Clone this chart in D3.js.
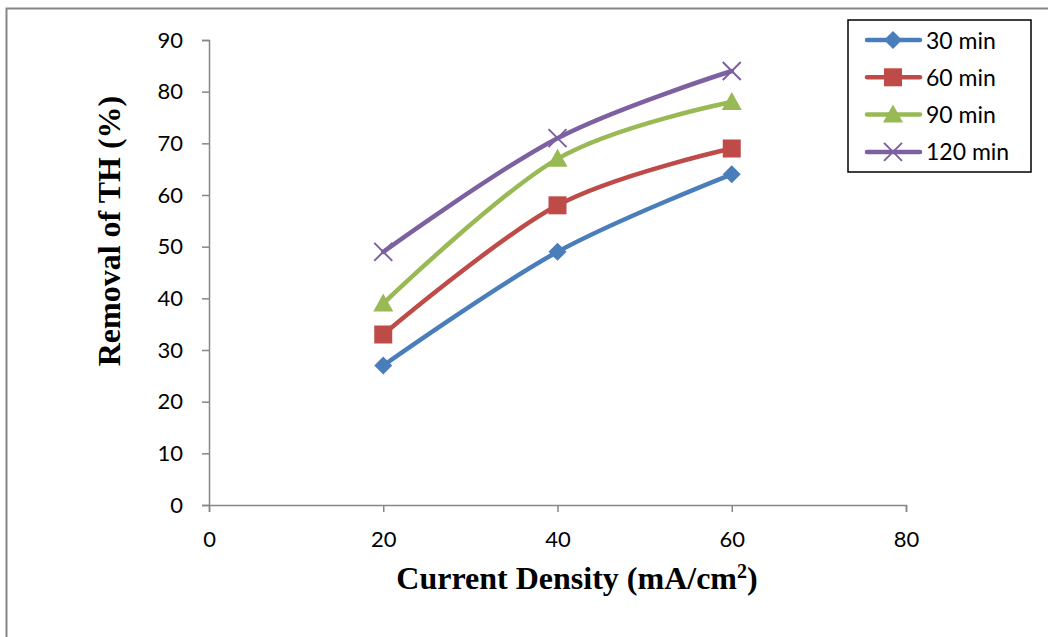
<!DOCTYPE html>
<html>
<head>
<meta charset="utf-8">
<script src="https://cdn.jsdelivr.net/npm/d3@7"></script>
<style>
  html, body { margin: 0; padding: 0; background: #fff; }
  svg { display: block; }
</style>
</head>
<body>
<svg id="chart" width="1048" height="637"></svg>
<script>
// Current density (mA/cm²) and removal of total hardness (%) per electrolysis time
const currentDensity = [20, 40, 60];
const removal30 = [27, 49, 64];
const removal60 = [33, 58, 69];
const removal90 = [39, 67, 78];
const removal120 = [49, 71, 84];
const seriesNames = ["30 min", "60 min", "90 min", "120 min"];
const xTicks = [0, 20, 40, 60, 80];
const yTicks = [0, 10, 20, 30, 40, 50, 60, 70, 80, 90];

const series = [
  { name: seriesNames[0], values: removal30, color: "#4A7EBB", marker: "diamond" },
  { name: seriesNames[1], values: removal60, color: "#BE4B48", marker: "square" },
  { name: seriesNames[2], values: removal90, color: "#98B954", marker: "triangle" },
  { name: seriesNames[3], values: removal120, color: "#7D60A0", marker: "cross" }
];

const svg = d3.select("#chart");
const axisColor = "#868686";
const labelFont = "Lato, 'Open Sans', sans-serif";
const titleFont = "'Liberation Serif', 'Times New Roman', serif";

// outer frame
svg.append("rect")
  .attr("x", 6.5).attr("y", 8.5)
  .attr("width", 1100).attr("height", 700)
  .attr("fill", "none").attr("stroke", axisColor).attr("stroke-width", 2);

const x = d3.scaleLinear().domain([0, 80]).range([209, 906]);
const y = d3.scaleLinear().domain([0, 90]).range([505, 40]);

// axes
const xAxis = svg.append("g").attr("transform", `translate(0,${y(0)})`)
  .call(d3.axisBottom(x).tickValues(xTicks).tickSize(7).tickPadding(19));
const yAxis = svg.append("g").attr("transform", `translate(${x(0)},0)`)
  .call(d3.axisLeft(y).tickValues(yTicks).tickSize(7).tickPadding(19));

[xAxis, yAxis].forEach(g => {
  g.select(".domain").attr("stroke", axisColor).attr("stroke-width", 1.5);
  g.selectAll(".tick line").attr("stroke", axisColor).attr("stroke-width", 1.5);
  g.selectAll(".tick text")
    .attr("fill", "#000")
    .style("font-family", labelFont)
    .style("font-size", "22px");
});

// axis titles
const xTitle = svg.append("text")
  .attr("x", 577).attr("y", 589)
  .attr("text-anchor", "middle")
  .style("font-family", titleFont)
  .style("font-weight", "bold").style("font-size", "32px");
xTitle.append("tspan").text("Current Density (mA/cm");
xTitle.append("tspan").attr("baseline-shift", "super").style("font-size", "20px").text("2");
xTitle.append("tspan").text(")");

svg.append("text")
  .attr("transform", "translate(120,231) rotate(-90)")
  .attr("text-anchor", "middle")
  .style("font-family", titleFont)
  .style("font-weight", "bold").style("font-size", "32px")
  .text("Removal of TH (%)");

// marker drawing
function drawMarker(g, type, color, cx, cy) {
  if (type === "diamond") {
    g.append("path")
      .attr("d", `M${cx},${cy - 9}L${cx + 9},${cy}L${cx},${cy + 9}L${cx - 9},${cy}Z`)
      .attr("fill", color);
  } else if (type === "square") {
    g.append("rect")
      .attr("x", cx - 9).attr("y", cy - 9).attr("width", 18).attr("height", 18)
      .attr("fill", color);
  } else if (type === "triangle") {
    g.append("path")
      .attr("d", `M${cx},${cy - 10}L${cx + 10},${cy + 8}L${cx - 10},${cy + 8}Z`)
      .attr("fill", color);
  } else {
    g.append("path")
      .attr("d", `M${cx - 9},${cy - 9}L${cx + 9},${cy + 9}M${cx + 9},${cy - 9}L${cx - 9},${cy + 9}`)
      .attr("stroke", color).attr("stroke-width", 2).attr("fill", "none");
  }
}

const line = d3.line()
  .x((d, i) => x(currentDensity[i]))
  .y(d => y(d))
  .curve(d3.curveCatmullRom.alpha(0));

series.forEach(s => {
  const g = svg.append("g");
  g.append("path")
    .attr("d", line(s.values))
    .attr("fill", "none")
    .attr("stroke", s.color)
    .attr("stroke-width", 4.5)
    .attr("stroke-linecap", "round");
  s.values.forEach((v, i) => drawMarker(g, s.marker, s.color, x(currentDensity[i]), y(v)));
});

// legend
const legend = svg.append("g");
legend.append("rect")
  .attr("x", 848).attr("y", 20).attr("width", 183).attr("height", 152)
  .attr("fill", "#fff").attr("stroke", "#000").attr("stroke-width", 1.5);

series.forEach((s, i) => {
  const ly = 40 + i * 37.3;
  const g = legend.append("g");
  g.append("line")
    .attr("x1", 867).attr("x2", 920).attr("y1", ly).attr("y2", ly)
    .attr("stroke", s.color).attr("stroke-width", 4.5).attr("stroke-linecap", "round");
  drawMarker(g, s.marker, s.color, 893, ly);
  g.append("text")
    .attr("x", 926).attr("y", ly + 8.5)
    .style("font-family", labelFont)
    .style("font-size", "23px")
    .text(s.name);
});
</script>
</body>
</html>
